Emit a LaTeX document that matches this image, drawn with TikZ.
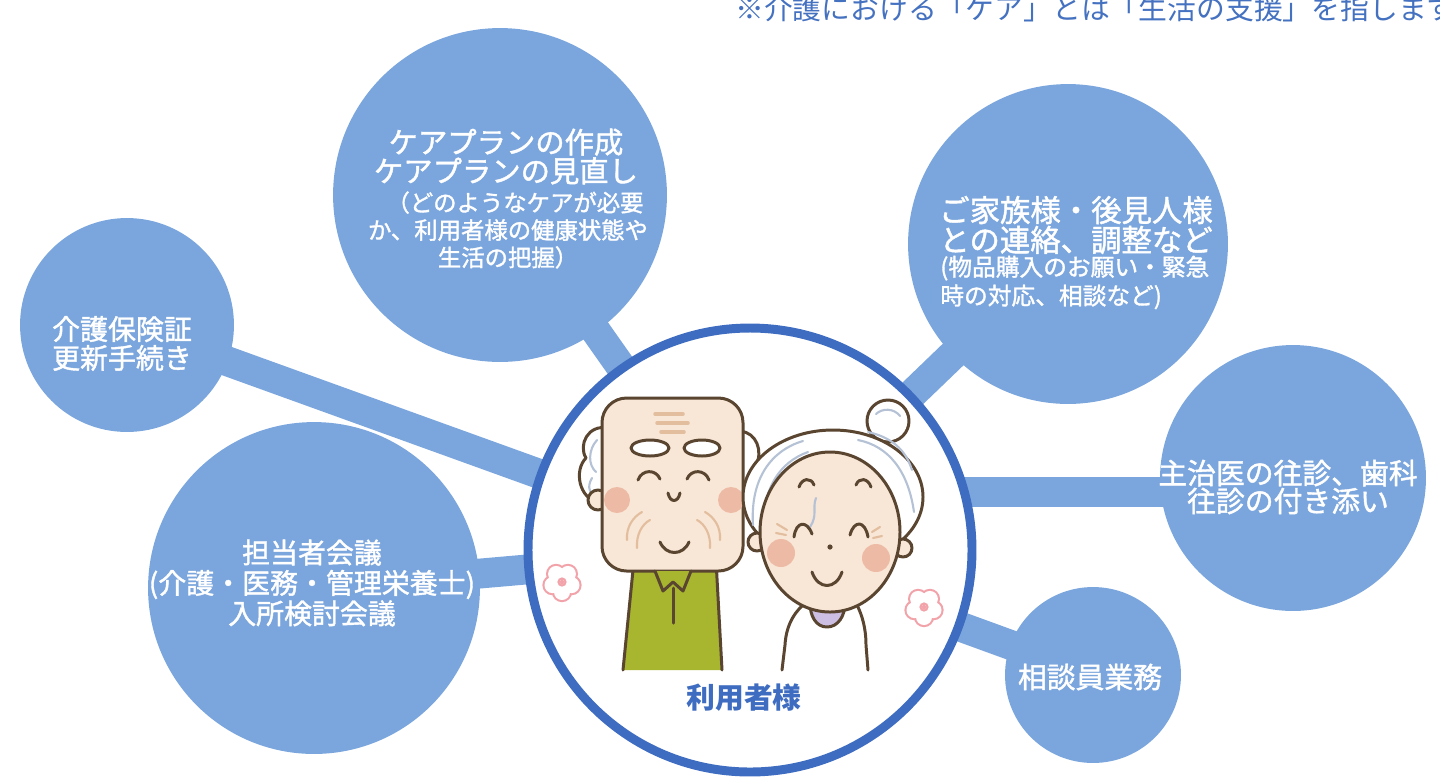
\documentclass[tikz,border=0pt]{standalone}
\usepackage{fontspec}
\newfontfamily\jp{Noto Sans CJK JP}
\newfontfamily\jpm[FakeBold=1.4]{Noto Sans CJK JP}
\usetikzlibrary{backgrounds,calc}
\definecolor{bubbleblue}{HTML}{7BA6DD}
\definecolor{hubblue}{HTML}{3E6CC0}
\definecolor{noteblue}{HTML}{4471C0}
\definecolor{ink}{HTML}{5A4530}
\definecolor{skin}{HTML}{F8E6D6}
\definecolor{blush}{HTML}{EDBBA5}
\definecolor{wrinkle}{HTML}{E2BE9E}
\definecolor{shirt}{HTML}{A8B52E}
\definecolor{hairgray}{HTML}{B5C2D6}
\definecolor{lilac}{HTML}{CDBFE3}
\definecolor{petalpink}{HTML}{F2A3AA}

\tikzset{
  flower/.pic={
    \foreach \a in {18,90,162,234,306}
      \draw[petalpink, line width=2.4pt] (\a:10) circle[radius=8];
    \foreach \a in {18,90,162,234,306}
      \fill[white] (\a:10) circle[radius=8];
    \draw[petalpink, line width=1.2pt] (0,0) circle[radius=3.5];
  }
}

\begin{document}
\begin{tikzpicture}[x=0.02cm, y=-0.02cm,
  bubble/.style={circle, fill=bubbleblue, inner sep=0pt, minimum size={(#1)*0.04cm}},
  link/.style={draw=bubbleblue, line width=17pt},
  lbl/.style={text=white, align=center, inner sep=0pt},
  outline/.style={draw=ink, line width=1.7pt, line join=round, line cap=round},
  thinline/.style={line width=1.2pt, line cap=round}
]
\path[use as bounding box] (0,0) rectangle (1440,779);
\clip (0,0) rectangle (1440,779);

% caption above the chart
\node[anchor=base west, inner sep=0pt, text=noteblue,
      font=\jp\fontsize{16.4pt}{17pt}\selectfont] (note) at (735,19)
  {※介護における「ケア」とは「生活の支援」を指します};

% central circle
\node[circle, draw=hubblue, fill=white, line width=5.1pt, inner sep=0pt,
      minimum size={444*0.02cm}] (hub) at (750,550) {};

% surrounding circles
\node[bubble=167] (care)   at (500,195)  {};
\node[bubble=107] (kaigo)  at (127,325)  {};
\node[bubble=166] (tanto)  at (314,588)  {};
\node[bubble=160] (family) at (1068,244) {};
\node[bubble=133] (ishi)   at (1293,478) {};
\node[bubble=88]  (sodan)  at (1093,675) {};

% connecting bands
\coordinate (ishiJoin) at ([yshift=-0.28cm]ishi.center);
\begin{scope}[on background layer]
  \draw[link] (kaigo.center)  -- (hub.center);
  \draw[link] (care.center)   -- (hub.center);
  \draw[link] (family.center) -- (hub.center);
  \draw[link] (tanto.center)  -- (hub.center);
  \draw[link] (sodan.center)  -- (hub.center);
  \draw[link] (ishiJoin) -- (ishiJoin -| hub.center);
\end{scope}

% labels
\node[lbl, font=\jpm\fontsize{16.7pt}{16.4pt}\selectfont] (careMain) at (506,156.5)
  {ケアプランの作成\\ケアプランの見直し};
\node[lbl, font=\jpm\fontsize{13.3pt}{15.6pt}\selectfont] (careSub) at (508,230)
  {\hspace*{0.6em}（どのようなケアが必要\\か、利用者様の健康状態や\\生活の把握）};
\node[lbl, font=\jpm\fontsize{15.9pt}{16.4pt}\selectfont] (kaigoText) at (122,343.5)
  {介護保険証\\更新手続き};
\node[lbl, font=\jpm\fontsize{17.3pt}{17pt}\selectfont] (familyMain) at (1076,225)
  {ご家族様・後見人様\\との連絡、調整など};
\node[lbl, align=left, anchor=west, font=\jpm\fontsize{13.5pt}{16.4pt}\selectfont] (familySub) at (940,282.5)
  {(物品購入のお願い・緊急\\ 時の対応、相談など)};
\node[lbl, font=\jpm\fontsize{15.9pt}{17.3pt}\selectfont] (tantoText) at (312,583)
  {担当者会議\\(介護・医務・管理栄養士)\\入所検討会議};
\node[lbl, font=\jpm\fontsize{16.4pt}{15.9pt}\selectfont] (ishiText) at (1288,487)
  {主治医の往診、歯科\\往診の付き添い};
\node[lbl, font=\jpm\fontsize{16.4pt}{17pt}\selectfont] (sodanText) at (1090,677)
  {相談員業務};
\node[inner sep=0pt, text=hubblue, font=\jp\bfseries\fontsize{16.4pt}{17pt}\selectfont] (user) at (744,698)
  {利用者様};

% --- elderly man ---
% shirt
\path[fill=shirt] (634,560) -- (623,670) -- (722,670) -- (716,560) -- cycle;
\draw[outline] (634,560) -- (623,670);
\draw[outline] (716,560) -- (722,670);
% hair tufts and ear
\draw[outline, fill=white] (735,432) .. controls (752,428) and (762,445) .. (758,460)
  .. controls (765,475) and (760,495) .. (740,500) -- cycle;
\draw[outline, fill=white] (608,428) .. controls (588,424) and (578,445) .. (586,458)
  .. controls (574,470) and (578,498) .. (600,504) -- (608,504) -- cycle;
\draw[hairgray, thinline] (597,440) .. controls (588,450) and (588,465) .. (596,472);
\draw[hairgray, thinline] (592,478) .. controls (586,488) and (590,495) .. (600,498);
\draw[outline, fill=skin] (598,500) circle[radius=10];
% head
\draw[outline, fill=skin, rounded corners=14pt] (602,398) rectangle (743,571);
% forehead lines
\draw[wrinkle, line width=2pt, line cap=round] (655,414) -- (683,414);
\draw[wrinkle, line width=2pt, line cap=round] (657,423) -- (688,423);
\draw[wrinkle, line width=2pt, line cap=round] (661,432) -- (684,432);
% eyebrows
\draw[outline, fill=white] (650,448) ellipse[x radius=19, y radius=8];
\draw[outline, fill=white] (702,448) ellipse[x radius=18, y radius=8];
% eyes
\draw[outline] (638,480) .. controls (642,469) and (656,469) .. (660,479);
\draw[outline] (687,479) .. controls (691,469) and (705,469) .. (709,480);
% cheeks
\fill[blush] (617,500) circle[radius=13];
\fill[blush] (731,500) circle[radius=13];
% nose and mouth
\draw[outline] (668,493) .. controls (670,503) and (678,503) .. (680,493);
\draw[outline] (660,542) .. controls (666,556) and (683,556) .. (689,542);
% cheek wrinkles
\draw[wrinkle, thinline] (627,540) .. controls (626,527) and (633,517) .. (642,512);
\draw[wrinkle, thinline] (637,548) .. controls (636,535) and (642,524) .. (650,520);
\draw[wrinkle, thinline] (720,540) .. controls (721,527) and (714,517) .. (705,512);
\draw[wrinkle, thinline] (710,548) .. controls (711,535) and (705,524) .. (697,520);
% collar and placket
\draw[outline, fill=shirt] (655,571) -- (663,591) -- (673,582) -- (683,591) -- (691,571);
\draw[outline] (673,588) -- (673,623);

% --- elderly woman ---
% body
\path[fill=white] (803,605) .. controls (792,615) and (786,628) .. (785,645)
  -- (782,670) -- (868,670) -- (866,645) .. controls (866,628) and (862,615) .. (857,605) -- cycle;
\draw[outline] (803,605) .. controls (792,615) and (786,628) .. (785,645) -- (782,670);
\draw[outline] (857,605) .. controls (862,615) and (866,628) .. (866,645) -- (868,670);
% collar
\draw[outline, fill=lilac] (810,603) .. controls (810,616) and (816,627) .. (827,627)
  .. controls (838,627) and (845,616) .. (845,603) -- cycle;
% bun and hair
\draw[outline, fill=white] (888,421) circle[radius=21];
\draw[outline, fill=white] (833,497) ellipse[x radius=90, y radius=67];
\draw[hairgray, thinline] (753,525) .. controls (750,478) and (772,450) .. (803,441);
\draw[hairgray, thinline] (764,530) .. controls (762,488) and (780,462) .. (808,452);
\draw[hairgray, thinline] (858,440) .. controls (888,446) and (908,470) .. (914,512);
\draw[hairgray, thinline] (868,432) .. controls (890,437) and (905,448) .. (912,470);
\draw[hairgray, thinline] (876,414) .. controls (882,408) and (894,408) .. (900,416);
% ears
\draw[outline, fill=skin] (757,542) circle[radius=9];
\draw[outline, fill=skin] (903,548) circle[radius=9];
% head
\draw[outline, fill=skin] (830,532) ellipse[x radius=70, y radius=80];
% stray hair strand
\draw[hairgray, thinline] (816,498) .. controls (812,508) and (818,515) .. (810,527);
% eyebrows
\draw[outline] (799,487) .. controls (802,478) and (811,477) .. (814,485);
\draw[outline] (856,485) .. controls (859,477) and (868,478) .. (871,487);
% eyes
\draw[outline] (794,537) .. controls (796,521) and (807,520) .. (812,534);
\draw[outline] (850,535) .. controls (854,520) and (865,520) .. (868,537);
% cheeks
\fill[blush] (781,553) circle[radius=14];
\fill[blush] (876,558) circle[radius=14];
% eye wrinkles
\draw[wrinkle, thinline] (777,524) -- (787,530);
\draw[wrinkle, thinline] (776,533) -- (786,535);
\draw[wrinkle, thinline] (880,527) -- (872,532);
\draw[wrinkle, thinline] (882,536) -- (873,538);
% nose and mouth
\fill[ink] (830,547) circle[radius=2.6];
\draw[outline] (812,572) .. controls (818,590) and (836,590) .. (842,572);

% flowers
\pic at (562,582) {flower};
\pic at (924,607) {flower};
\end{tikzpicture}
\end{document}
